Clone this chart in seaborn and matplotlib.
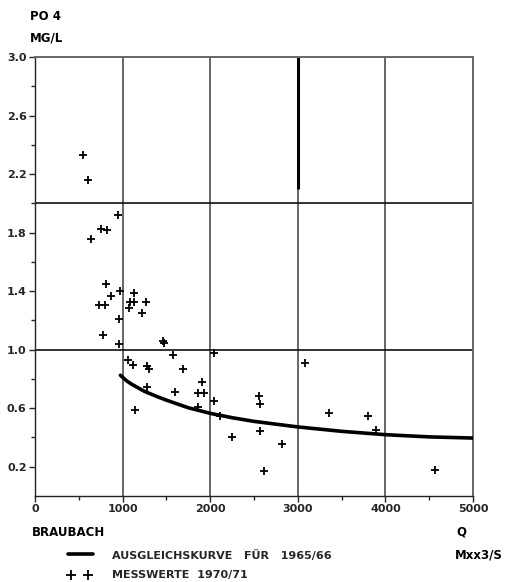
import matplotlib
matplotlib.use("Agg")
import matplotlib.pyplot as plt
import seaborn as sns
import pandas as pd

# Measurements 1970/71 (Q in m3/s, PO4 in mg/l)
meas_q = [552, 601, 948, 753, 826, 636, 811, 970, 1130, 868, 734, 795, 1085, 1127,
          1263, 1069, 1221, 959, 773, 959, 1465, 1476, 2047, 1062, 1122, 1579, 1279,
          1298, 1686, 1903, 1282, 1602, 1857, 1929, 1138, 1857, 2040, 2112, 2561,
          2572, 3079, 3360, 2253, 2569, 2820, 2611, 3805, 3896, 4570]
meas_po4 = [2.33, 2.16, 1.92, 1.825, 1.816, 1.755, 1.447, 1.40, 1.39, 1.367, 1.308, 1.308,
            1.326, 1.326, 1.324, 1.287, 1.249, 1.208, 1.10, 1.037, 1.059, 1.048, 0.975,
            0.93, 0.895, 0.964, 0.891, 0.866, 0.866, 0.777, 0.745, 0.709, 0.706, 0.706,
            0.588, 0.606, 0.649, 0.547, 0.686, 0.627, 0.907, 0.565, 0.403, 0.442, 0.353,
            0.169, 0.545, 0.449, 0.176]

# Fitted curve 1965/66
curve_q = [975, 1050, 1100, 1250, 1400, 1500, 1750, 2000, 2250, 2500, 3000, 3500, 4000, 4500, 5000]
curve_po4 = [0.825, 0.785, 0.765, 0.715, 0.678, 0.655, 0.603, 0.565, 0.535, 0.51, 0.472,
             0.442, 0.419, 0.404, 0.396]

xticks = [0, 1000, 2000, 3000, 4000, 5000]
xminor = [500, 1500, 2500, 3500, 4500]
yticks = [0.2, 0.6, 1.0, 1.4, 1.8, 2.2, 2.6, 3.0]
yminor = [0.4, 0.8, 1.2, 1.6, 2.0, 2.4, 2.8]
hgrid = [1.0, 2.0]
vgrid = [1000, 2000, 3000, 4000]
marker_seg_x = [3000]
marker_seg_y = [2.1, 3.0]

sns.set_style("white")
plt.rcParams['font.family'] = ['DejaVu Sans']

fig = plt.figure(figsize=(5.15, 5.82), dpi=100)
ax = fig.add_axes([35/515, 1-496/582, 438/515, 439/582])

df_m = pd.DataFrame({"Q": meas_q, "PO4": meas_po4})
df_c = pd.DataFrame({"Q": curve_q, "PO4": curve_po4})

for g in vgrid:
    ax.axvline(g, color="#666666", lw=1.4, zorder=1)
for g in hgrid:
    ax.axhline(g, color="#111111", lw=1.2, zorder=1)
ax.vlines(marker_seg_x, marker_seg_y[0], marker_seg_y[1], color="black", lw=2.2, zorder=2)

sns.lineplot(data=df_c, x="Q", y="PO4", ax=ax, color="black", lw=2.6, zorder=3)
sns.scatterplot(data=df_m, x="Q", y="PO4", ax=ax, marker="+", color="black",
                s=40, linewidth=1.3, zorder=4)

ax.set_xlim(0, 5000)
ax.set_ylim(0, 3.0)
ax.set_xlabel("")
ax.set_ylabel("")
ax.set_xticks(xticks)
ax.set_xticklabels([str(t) for t in xticks])
ax.set_xticks(xminor, minor=True)
ax.set_yticks(yticks)
ax.set_yticklabels([f"{t:.1f}" for t in yticks])
ax.set_yticks(yminor, minor=True)
ax.tick_params(axis="both", which="major", direction="out", length=4, width=1,
               labelsize=8, pad=2, bottom=True, left=True)
ax.tick_params(axis="both", which="minor", direction="out", length=3, width=1,
               bottom=True, left=True)
for lab in ax.get_xticklabels() + ax.get_yticklabels():
    lab.set_fontweight("bold")

for side in ["left", "bottom"]:
    ax.spines[side].set_color("#222222")
    ax.spines[side].set_linewidth(1.0)
for side in ["top", "right"]:
    ax.spines[side].set_color("#666666")
    ax.spines[side].set_linewidth(1.4)

tk = dict(fontsize=8.5, fontweight="bold", color="black")
fig.text(30/515, 1-16/582, "PO 4", va="center", ha="left", **tk)
fig.text(30/515, 1-38/582, "MG/L", va="center", ha="left", **tk)
fig.text(32/515, 1-532/582, "BRAUBACH", va="center", ha="left", **tk)
fig.text(456/515, 1-532/582, "Q", va="center", ha="left", **tk)
fig.text(455/515, 1-555/582, "Mxx3/S", va="center", ha="left", **tk)
fig.text(112/515, 1-555/582, "AUSGLEICHSKURVE   FÜR   1965/66", va="center", ha="left",
         fontsize=8, fontweight="bold")
fig.text(112/515, 1-575/582, "MESSWERTE  1970/71", va="center", ha="left",
         fontsize=8, fontweight="bold")
fig.lines.append(plt.Line2D([68/515, 93/515], [1-554/582, 1-554/582],
                            transform=fig.transFigure, color="black", lw=2.6))
fig.lines.append(plt.Line2D([71/515, 88/515], [1-575/582, 1-575/582],
                            transform=fig.transFigure, color="black", lw=0,
                            marker="+", markersize=6.5, markeredgewidth=1.3))

fig.savefig("out.png", dpi=100)
